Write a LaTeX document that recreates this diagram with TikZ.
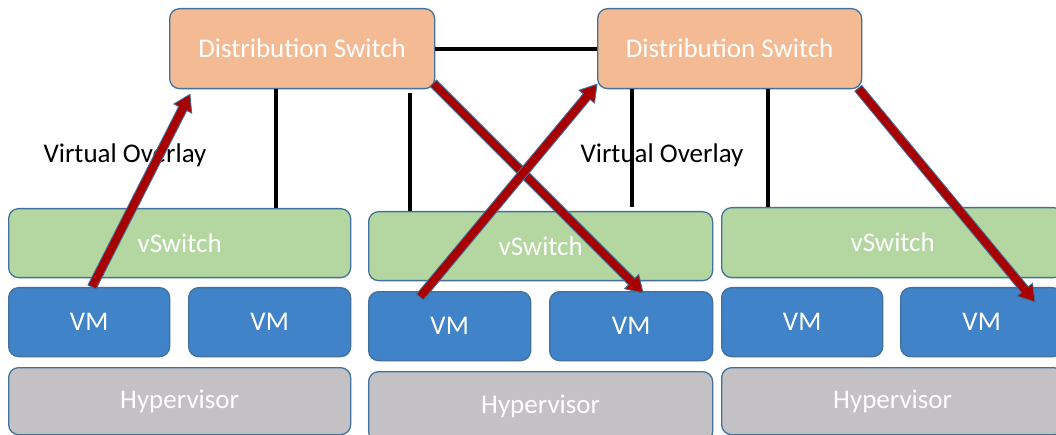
\documentclass[tikz,border=0pt]{standalone}
\usepackage{fontspec}
\setmainfont{Carlito}
\usetikzlibrary{calc}
\definecolor{edgeblue}{HTML}{41719C}
\definecolor{dsfill}{HTML}{F4BA94}
\definecolor{vsfill}{HTML}{B4D6A0}
\definecolor{vmfill}{HTML}{4083C8}
\definecolor{hvfill}{HTML}{C3C1C3}
\definecolor{ovred}{HTML}{A80000}
\tikzset{
  box/.style={draw=edgeblue, line width=1.3pt, rounded corners=10pt, anchor=north west,
    inner sep=0pt, text=white, font=\fontsize{27}{31}\selectfont},
  dsbox/.style={box, fill=dsfill},
  vsbox/.style={box, fill=vsfill},
  vmbox/.style={box, fill=vmfill},
  hvbox/.style={box, fill=hvfill},
  link/.style={draw=black, line width=4pt},
  ovarrow/.style={fill=ovred, draw=edgeblue, line width=0.9pt, line join=miter},
  label/.style={text=black, font=\fontsize{27}{31}\selectfont}
}
% block arrow from #1 to #2 (shaft half width 4.5pt, head half width 10pt, head length 16pt)
\newcommand\overlayarrow[2]{%
  \filldraw[ovarrow] let \p1=(#1), \p2=(#2), \n1={atan2(\y2-\y1,\x2-\x1)} in
    ($(\p1)+(\n1+90:4.5pt)$)
    -- ($(\p2)+(\n1+180:16pt)+(\n1+90:4.5pt)$)
    -- ($(\p2)+(\n1+180:16pt)+(\n1+90:10pt)$)
    -- (\p2)
    -- ($(\p2)+(\n1+180:16pt)+(\n1-90:10pt)$)
    -- ($(\p2)+(\n1+180:16pt)+(\n1-90:4.5pt)$)
    -- ($(\p1)+(\n1-90:4.5pt)$) -- cycle;}
\begin{document}
\begin{tikzpicture}[x=1pt, y=-1pt]
\clip (0,0) rectangle (1056,435);
\fill[white] (0,0) rectangle (1056,435);

% distribution switches
\node[dsbox, minimum width=265pt, minimum height=80pt] (ds1) at (169,8) {Distribution Switch};
\node[dsbox, minimum width=264pt, minimum height=80pt] (ds2) at (597,8) {Distribution Switch};

% host 1
\node[vsbox, minimum width=342pt, minimum height=69pt] (vs1) at (8,208) {vSwitch};
\node[vmbox, minimum width=161pt, minimum height=69pt] (vm1a) at (8,287) {VM};
\node[vmbox, minimum width=162pt, minimum height=69pt] (vm1b) at (188,287) {VM};
\node[hvbox, minimum width=342pt, minimum height=67pt] (hv1) at (8,367) {Hypervisor};

% host 2
\node[vsbox, minimum width=344pt, minimum height=69pt] (vs2) at (368,211) {vSwitch};
\node[vmbox, minimum width=162pt, minimum height=69pt] (vm2a) at (368,291) {VM};
\node[vmbox, minimum width=163pt, minimum height=69pt] (vm2b) at (549,291) {VM};
\node[hvbox, minimum width=344pt, minimum height=70pt] (hv2) at (368,371) {Hypervisor};

% host 3
\node[vsbox, minimum width=342pt, minimum height=70pt] (vs3) at (721,207) {vSwitch};
\node[vmbox, minimum width=161pt, minimum height=69pt] (vm3a) at (721,287) {VM};
\node[vmbox, minimum width=162pt, minimum height=69pt] (vm3b) at (900,287) {VM};
\node[hvbox, minimum width=342pt, minimum height=67pt] (hv3) at (721,367) {Hypervisor};

% labels
\node[label] (ov1) at (125,155) {Virtual Overlay};
\node[label] (ov2) at (662,155) {Virtual Overlay};

% physical links
\coordinate (up2) at (410,93);
\coordinate (dn3) at (631,207);
\draw[link] (ds1.east) -- (ds2.west);
\draw[link] ([xshift=-26.5pt]ds1.south) -- ([xshift=-26.5pt]ds1.south |- vs1.north);
\draw[link] (up2 |- vs2.north) -- (up2);
\draw[link] ([xshift=-98pt]ds2.south) -- ([xshift=-98pt]ds2.south |- dn3);
\draw[link] ([xshift=38pt]ds2.south) -- ([xshift=38pt]ds2.south |- vs3.north);

% overlay tunnels
\coordinate (a1s) at ([xshift=84pt]vm1a.north west);
\coordinate (a1e) at ([xshift=21pt,yshift=-5pt]ds1.south west);
\coordinate (a2s) at ([xshift=-2pt,yshift=6pt]ds1.south east);
\coordinate (a2e) at ([xshift=94pt,yshift=-2pt]vm2b.north west);
\coordinate (a3s) at ([xshift=52pt,yshift=-6pt]vm2a.north west);
\coordinate (a3e) at ([yshift=5pt]ds2.south west);
\coordinate (a4s) at ([xshift=-4pt,yshift=1pt]ds2.south east);
\coordinate (a4e) at ([xshift=135pt,yshift=-15pt]vm3b.north west);
\overlayarrow{a1s}{a1e}
\overlayarrow{a2s}{a2e}
\overlayarrow{a3s}{a3e}
\overlayarrow{a4s}{a4e}
\end{tikzpicture}
\end{document}
